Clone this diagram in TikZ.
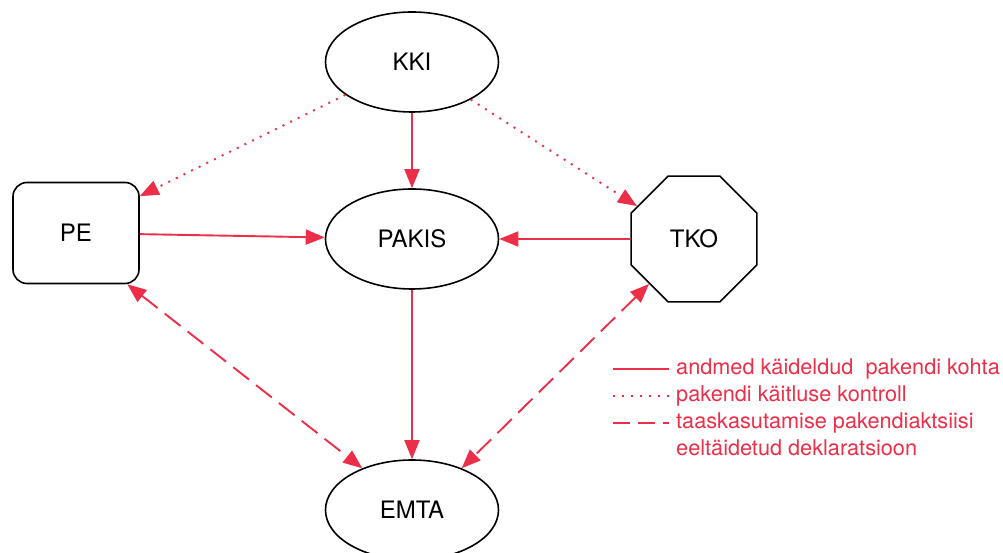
\documentclass[tikz,border=0pt]{standalone}
\usepackage{fontspec}
\setmainfont{TeX Gyre Heros}
\usepackage{xcolor}
\usepackage{tikz}
\usetikzlibrary{shapes.geometric, arrows.meta, positioning}

\definecolor{pakred}{RGB}{236,46,72}

\begin{document}
\begin{tikzpicture} [black, node distance = 2.5cm, on grid, font=\fontsize{24}{28}\selectfont,
		agency/.style = {draw, line width = 1.6pt, inner sep = 0pt},
		flow/.style = {pakred, line width = 1.9pt, -{Triangle[length=19pt, width=15pt]}},
		check/.style = {flow, dash pattern = on 2pt off 6.5pt},
		declare/.style = {flow, {Triangle[length=19pt, width=15pt]}-{Triangle[length=19pt, width=15pt]}, dash pattern = on 20pt off 9pt},
		legend/.style = {pakred, inner sep = 0pt, anchor = west, font=\fontsize{21.7}{25}\selectfont}]
			% Frame of the picture
			\useasboundingbox (-412pt,239pt) rectangle (591pt,-314pt);
			% Central Node : Every other node is measured based to this one
			\node (pakis) [agency, ellipse, minimum width = 173pt, minimum height = 100pt] {PAKIS};

			% Upper and lower Nodes
			\node (kki) [agency, ellipse, minimum width = 173pt, minimum height = 100pt, above = 177pt of pakis] {KKI};
			\node (emta) [agency, ellipse, minimum width = 173pt, minimum height = 100pt, below = 271pt of pakis] {EMTA};

			% Side Nodes
			\node (pe) [agency, rectangle, rounded corners = 14pt, minimum width = 126pt, minimum height = 101pt,
			left = 336pt of pakis, yshift = 6pt] {PE};
			\node (tko) [agency, regular polygon, regular polygon sides = 8, minimum size = 136pt,
			right = 282pt of pakis] {TKO};

			% Draw Arrows/Connections
			\draw [flow] (kki) -- (pakis);
			\draw [flow] (pe) -- (pakis);
			\draw [flow] (tko) -- (pakis);
			\draw [flow] (pakis) -- (emta);
			\draw [check] (kki) -- (pe.30);
			\draw [check] (kki) -- (tko.150);
			\draw [declare] (pe.315) -- (emta.140);
			\draw [declare] (tko.225) -- (emta.40);

			% Legend
			\node (leg1) [legend] at (264pt,-130pt) {andmed käideldud\ \ pakendi kohta};
			\node (leg2) [legend, below = 27pt of leg1.west, anchor = west] {pakendi käitluse kontroll};
			\node (leg3) [legend, below = 27pt of leg2.west, anchor = west] {taaskasutamise pakendiaktsiisi};
			\node (leg4) [legend, below = 25pt of leg3.west, anchor = west] {eeltäidetud deklaratsioon};
			\draw [pakred, line width = 1.9pt] ([xshift=-63pt]leg1.west) -- ([xshift=-7pt]leg1.west);
			\draw [pakred, line width = 1.9pt, dash pattern = on 2pt off 7pt] ([xshift=-63pt]leg2.west) -- ([xshift=-7pt]leg2.west);
			\draw [pakred, line width = 1.9pt, dash pattern = on 17pt off 8pt] ([xshift=-63pt]leg3.west) -- ([xshift=-7pt]leg3.west);
		\end{tikzpicture}
\end{document}
